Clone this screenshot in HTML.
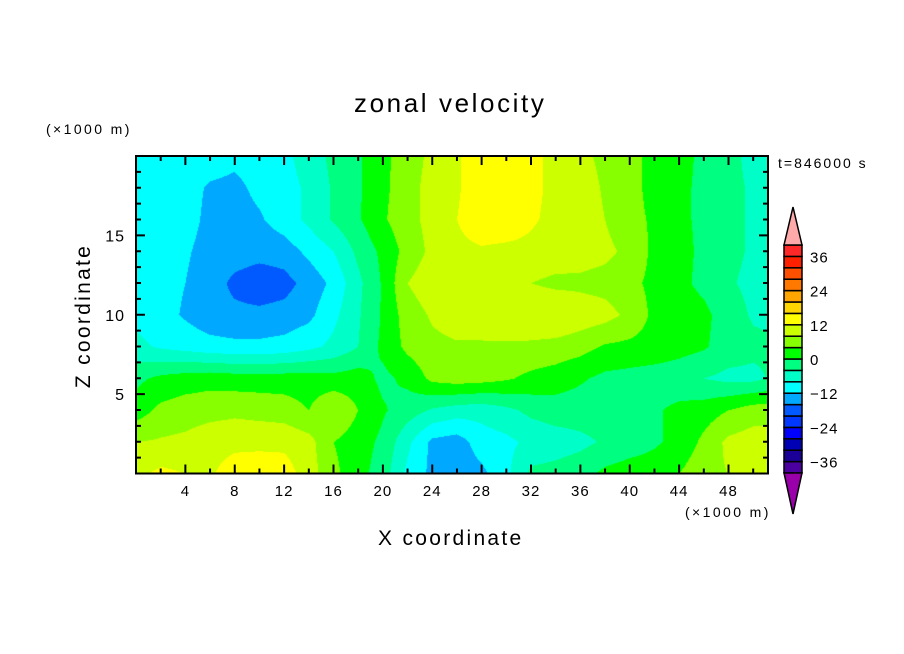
<!DOCTYPE html>
<html><head><meta charset="utf-8"><style>
body{margin:0;background:#fff;}
#wrap{position:relative;width:904px;height:654px;overflow:hidden;background:#fff;font-family:"Liberation Sans",sans-serif;}
.t{position:absolute;white-space:nowrap;color:#000;}
canvas{position:absolute;left:0;top:0;}
</style></head><body>
<div id="wrap">
<canvas id="c" width="904" height="654"></canvas>
<svg id="s" width="904" height="654" style="position:absolute;left:0;top:0"></svg>
<div class="t" style="left:354px;top:88px;font-size:26px;letter-spacing:2.6px;">zonal velocity</div>
<div class="t" style="left:46px;top:121px;font-size:14px;letter-spacing:2.4px;">(×1000 m)</div>
<div class="t" style="left:778px;top:155px;font-size:14px;letter-spacing:2px;">t=846000 s</div>
<div class="t" style="left:685px;top:504px;font-size:14px;letter-spacing:2.4px;">(×1000 m)</div>
<div class="t" style="left:378px;top:527px;font-size:21px;letter-spacing:2.3px;">X coordinate</div>
<div class="t" style="left:84px;top:316px;font-size:21px;letter-spacing:2.3px;transform:translate(-50%,-50%) rotate(-90deg);">Z coordinate</div>
</div>
<script>
const xGrid=[0,2,4,6,8,10,12,14,16,18,20,22,24,26,28,30,32,34,36,38,40,42,44,46,48,50,52];
const zGrid=[20,18,16,14,12,10,8,6,4,2,0];
const row20=[-10,-10,-10,-10,-11,-10,-9,-6,-3,-0.5,3,6,9,11.5,14.5,15,13,11,9,7,5,3,1.5,-1,-3,-5,-6];
const row18=[-10,-10,-10.5,-12.5,-13,-11,-10,-7,-3.5,-0.5,3,6.5,9.5,11.5,14.5,15,13,11,10,7.5,5,3,1,-1,-3,-4.5,-5];
const row16=[-10,-10,-10.5,-13,-13.5,-12.5,-10,-7,-3.5,-0.5,3.5,6.5,9.5,12,14.5,14.5,12.5,11,10,8,5,3.5,1,-1,-3,-4.5,-5];
const row14=[-10,-10.5,-11.5,-13.5,-14,-14.5,-14,-11,-8,-3,1,5.5,9,11,11.5,11,11,10.5,10,9,7,3,1.5,-1,-3,-4.5,-5];
const row12=[-10,-10.5,-12,-14,-17,-18.5,-17.5,-14.5,-11,-5,0.5,8,10.5,11,11,10.5,8,7,7,6.5,5,3,1,-1,-3.5,-5,-5];
const row10=[-9,-10.5,-12.5,-14.5,-15,-15,-14.5,-13,-9,-4.5,0.5,6,8.5,10,10,10.5,12,12,10.5,9.5,7,3,2,1,-2,-4.5,-5];
const row8=[-7,-8.5,-9.5,-10.5,-11,-11,-10.5,-9,-7,-4,1,5,7,7.5,7.5,7.5,7,6.5,5.5,3.5,3,2.5,1.5,0.5,-2,-3,-3.5];
const row6=[-1,1,2,2.5,2,2,2,2,1.5,2,-1,1,5,6,5.5,4.5,3,2,0.5,-1,-1.5,-2,-2.5,-4,-5,-5,-3];
const row4=[2,5,6,6.5,7,6.5,6,4,8,4,0.5,-2,-4.5,-6,-6.5,-5,-3,-2,-2,-2,-1.5,-0.5,1,2,4,6,6];
const row2=[8,8.5,9,10.5,11,11,11,9.5,4,2,-1,-7,-13,-14,-10,-9,-7,-6,-5,-3.5,-2,-0.5,1,5,9,10,10];
const row0=[11,13,12,11.5,14,14.5,14,10,5,1.5,-2,-9,-13,-14.5,-13,-9,-3,-2.5,-1.5,1,2,2,4,7,8,8.5,9];
const rows=[row20,row18,row16,row14,row12,row10,row8,row6,row4,row2,row0];
const levels=[-40,-36,-32,-28,-24,-20,-16,-12,-8,-4,0,4,8,12,16,20,24,28,32,36,40];
const colorLabels=["36","24","12","0","-12","-24","-36"];
const labelValues=[36,24,12,0,-12,-24,-36];
const xTicks=[4,8,12,16,20,24,28,32,36,40,44,48];
const zTicks=[5,10,15];
const colors=["#4b00a0","#1a0096","#0000b4","#0000ff","#0038ff","#005aff","#00a8ff","#00ffff","#00ffc8","#00ff80","#00ff00","#88ff00","#ccff00","#ffff00","#ffd700","#ffa500","#ff7800","#ff5000","#ff2000","#ff2828"];

const X0=136,X1=768,Y0=156,Y1=473.5,XMAX=51.2,ZMAX=20;
const sx=x=>X0+x*(X1-X0)/XMAX;
const sz=z=>Y1-z*(Y1-Y0)/ZMAX;
function val(x,z){
  let fi=(x-xGrid[0])/(xGrid[1]-xGrid[0]);
  let fj=(zGrid[0]-z)/(zGrid[0]-zGrid[1]);
  fi=Math.max(0,Math.min(xGrid.length-1.001,fi));fj=Math.max(0,Math.min(zGrid.length-1.001,fj));
  const i=Math.floor(fi),j=Math.floor(fj),a=fi-i,b=fj-j;
  return rows[j][i]*(1-a)*(1-b)+rows[j][i+1]*a*(1-b)+rows[j+1][i]*(1-a)*b+rows[j+1][i+1]*a*b;
}
function hex(c){return [parseInt(c.substr(1,2),16),parseInt(c.substr(3,2),16),parseInt(c.substr(5,2),16)];}
const rgb=colors.map(hex);
const cv=document.getElementById('c');const ctx=cv.getContext('2d');
const w=X1-X0,h=Math.round(Y1-Y0);
const img=ctx.createImageData(w,h);
for(let py=0;py<h;py++){for(let px=0;px<w;px++){
  const x=(px+0.5)*XMAX/w, z=ZMAX-(py+0.5)*ZMAX/h;
  const v=val(x,z);
  let k=Math.floor((v-levels[0])/4);k=Math.max(0,Math.min(19,k));
  const c=rgb[k],o=(py*w+px)*4;
  img.data[o]=c[0];img.data[o+1]=c[1];img.data[o+2]=c[2];img.data[o+3]=255;
}}
ctx.putImageData(img,X0,Y0);

const NS="http://www.w3.org/2000/svg";
const svg=document.getElementById('s');
function el(t,a){const e=document.createElementNS(NS,t);for(const k in a)e.setAttribute(k,a[k]);svg.appendChild(e);return e;}
let fr=el('rect',{x:X0,y:Y0,width:X1-X0,height:Y1-Y0,fill:'none',stroke:'#000','stroke-width':2});


for(let x=2;x<=50;x+=2){
  const maj=x%4===0,L=maj?9:5,p=sx(x);
  let t1=el('line',{x1:p,y1:Y1,x2:p,y2:Y1-L,stroke:'#000','stroke-width':2});
  
  
  el('line',{x1:p,y1:Y0,x2:p,y2:Y0+L,stroke:'#000','stroke-width':2});
}
xTicks.forEach(x=>{
  const t=el('text',{x:sx(x),y:496,'text-anchor':'middle','font-size':15,'letter-spacing':1,'font-family':'Liberation Sans, sans-serif'});
  t.textContent=x;
  
  
});
for(let z=1;z<=19;z++){
  const maj=z%5===0,L=maj?9:5,p=sz(z);
  let t1=el('line',{x1:X0,y1:p,x2:X0+L,y2:p,stroke:'#000','stroke-width':2});
  
  
  el('line',{x1:X1,y1:p,x2:X1-L,y2:p,stroke:'#000','stroke-width':2});
}
zTicks.forEach(z=>{
  const t=el('text',{x:125,y:sz(z)+6,'text-anchor':'end','font-size':16,'letter-spacing':1,'font-family':'Liberation Sans, sans-serif'});
  t.textContent=z;
  
  
});
const CB0=245,CB1=473,CX=784,CW=18;
const cy=v=>CB1-(v-levels[0])*(CB1-CB0)/(levels[20]-levels[0]);
for(let k=0;k<20;k++){
  const r=el('rect',{x:CX,y:cy(levels[k+1]),width:CW,height:cy(levels[k])-cy(levels[k+1]),fill:colors[k],stroke:'#000','stroke-width':1.5});
  
  
}
let up=el('polygon',{points:`${CX},${CB0} ${CX+CW},${CB0} ${CX+CW/2},207`,fill:'#ffaaaa',stroke:'#000','stroke-width':1.5});


let dn=el('polygon',{points:`${CX},${CB1} ${CX+CW},${CB1} ${CX+CW/2},514`,fill:'#9900aa',stroke:'#000','stroke-width':1.5});


labelValues.forEach((v,i)=>{
  const t=el('text',{x:810,y:cy(v)+6,'font-size':15,'letter-spacing':1,'font-family':'Liberation Sans, sans-serif'});
  t.textContent=colorLabels[i].replace('-','\u2212');
  
  
});
</script>
</body></html>
